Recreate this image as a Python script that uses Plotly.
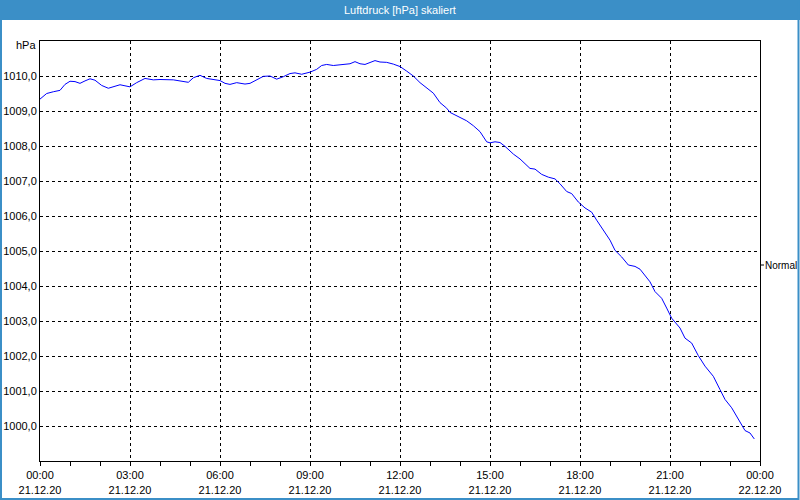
import plotly.graph_objects as go
import pandas as pd

title_text = "Luftdruck [hPa] skaliert"
unit_label = "hPa"
legend_label = "Normal"
start_day = "2020-12-21 00:00"
end_day = "2020-12-22 00:00"

hours = [0, 0.222, 0.444, 0.667, 0.833, 1.0, 1.167, 1.333, 1.5, 1.667, 1.833,
         2.056, 2.278, 2.444, 2.667, 2.833, 3.0, 3.222, 3.5, 3.778, 4.0, 4.444,
         4.778, 4.944, 5.111, 5.333, 5.556, 5.778, 6.0, 6.167, 6.333, 6.556,
         6.833, 7.0, 7.222, 7.444, 7.667, 7.889, 8.111, 8.333, 8.5, 8.722, 9.0,
         9.222, 9.389, 9.556, 9.778, 10.111, 10.333, 10.5, 10.667, 10.833, 11.0,
         11.167, 11.333, 11.556, 11.778, 12.0, 12.222, 12.444, 12.667, 12.889,
         13.111, 13.333, 13.556, 13.667, 13.889, 14.222, 14.444, 14.667, 14.889,
         15.0, 15.167, 15.333, 15.5, 15.778, 16.0, 16.333, 16.5, 16.722, 16.944,
         17.167, 17.333, 17.556, 17.722, 17.944, 18.167, 18.389, 18.556, 18.778,
         19.0, 19.167, 19.389, 19.611, 19.833, 20.0, 20.333, 20.5, 20.722,
         20.889, 21.056, 21.333, 21.5, 21.722, 21.944, 22.167, 22.444, 22.667,
         22.833, 23.056, 23.278, 23.5, 23.667, 23.81]

pressure = [1009.34, 1009.50, 1009.55, 1009.59, 1009.76, 1009.85, 1009.84, 1009.79,
            1009.86, 1009.92, 1009.88, 1009.73, 1009.65, 1009.69, 1009.75, 1009.72,
            1009.69, 1009.81, 1009.93, 1009.89, 1009.90, 1009.89, 1009.84, 1009.82,
            1009.95, 1010.02, 1009.93, 1009.91, 1009.87, 1009.79, 1009.76, 1009.81,
            1009.77, 1009.79, 1009.88, 1009.99, 1010.00, 1009.91, 1009.98, 1010.07,
            1010.09, 1010.05, 1010.11, 1010.19, 1010.30, 1010.33, 1010.30, 1010.33,
            1010.35, 1010.41, 1010.35, 1010.33, 1010.38, 1010.44, 1010.40, 1010.39,
            1010.34, 1010.27, 1010.14, 1010.00, 1009.81, 1009.65, 1009.51, 1009.24,
            1009.08, 1008.96, 1008.86, 1008.72, 1008.58, 1008.41, 1008.12, 1008.09,
            1008.12, 1008.10, 1007.99, 1007.77, 1007.63, 1007.36, 1007.34, 1007.19,
            1007.11, 1007.06, 1006.92, 1006.70, 1006.64, 1006.40, 1006.23, 1006.11,
            1005.88, 1005.61, 1005.31, 1005.02, 1004.83, 1004.60, 1004.56, 1004.48,
            1004.12, 1003.84, 1003.65, 1003.37, 1003.08, 1002.80, 1002.51, 1002.37,
            1002.01, 1001.71, 1001.42, 1001.04, 1000.76, 1000.52, 1000.19, 999.87,
            999.80, 999.63]

y_range = [999, 1011]
y_ticks = [1000, 1001, 1002, 1003, 1004, 1005, 1006, 1007, 1008, 1009, 1010]

times = pd.Timestamp(start_day) + pd.to_timedelta(hours, unit="h")

fig = go.Figure()
fig.add_trace(go.Scatter(x=times, y=pressure, mode="lines",
                         line=dict(color="#0000ff", width=1),
                         hoverinfo="x+y", showlegend=False))

font_main = "Liberation Sans, DejaVu Sans, sans-serif"

W, H = 800, 500
L, R, T, B = 40, 40, 41, 39
pw, ph = W - L - R, H - T - B


def px(x):
    return (x - L) / pw


def py(y):
    return (H - B - y) / ph


fig.update_layout(
    width=W, height=H,
    margin=dict(l=L, r=R, t=T, b=B, pad=0, autoexpand=False),
    paper_bgcolor="white", plot_bgcolor="white",
    separators=",.",
    font=dict(family=font_main, size=11, color="#000000"),
    xaxis=dict(
        type="date", range=[start_day, end_day], automargin=False,
        tickmode="linear", tick0=start_day, dtick=3 * 3600000,
        tickformat="%H:%M<br>%d.%m.%y",
        ticks="outside", ticklen=4, tickcolor="black",
        showgrid=True, gridcolor="black", griddash="3px,3px", gridwidth=1,
        showline=True, linecolor="black", linewidth=1, mirror=True,
        zeroline=False,
        minor=dict(dtick=3600000, tick0=start_day, ticks="outside", ticklen=4,
                   tickcolor="black", showgrid=False),
        tickfont=dict(size=11, family=font_main, color="#000000"),
    ),
    yaxis=dict(
        range=y_range, tickmode="array", tickvals=y_ticks, tickformat=".1f",
        automargin=False,
        ticks="", showgrid=True, gridcolor="black", griddash="3px,3px",
        gridwidth=1, showline=True, linecolor="black", linewidth=1, mirror=True,
        zeroline=False,
        tickfont=dict(size=11, family=font_main, color="#000000"),
    ),
    shapes=[
        dict(type="rect", xref="paper", yref="paper",
             x0=px(0), x1=px(W), y0=py(20), y1=py(0),
             fillcolor="#3b8fc7", line=dict(width=0), layer="above"),
        dict(type="rect", xref="paper", yref="paper",
             x0=px(1), x1=px(798.5), y0=py(499), y1=py(0),
             fillcolor="rgba(0,0,0,0)", line=dict(color="#3b8fc7", width=2)),
        dict(type="line", xref="paper", yref="paper",
             x0=px(760), x1=px(764), y0=py(265), y1=py(265),
             line=dict(color="black", width=1)),
    ],
    annotations=[
        dict(text=title_text, xref="paper", yref="paper",
             x=px(400), y=py(10), xanchor="center", yanchor="middle",
             showarrow=False, font=dict(color="white", size=11, family=font_main)),
        dict(text=unit_label, xref="paper", yref="paper",
             x=px(38), y=py(45), xanchor="right", yanchor="middle",
             showarrow=False, font=dict(size=11, family=font_main)),
        dict(text=legend_label, xref="paper", yref="paper",
             x=px(763), y=py(265), xanchor="left", yanchor="middle",
             showarrow=False, font=dict(size=10, family=font_main)),
    ],
)

fig.write_html("out.html")
